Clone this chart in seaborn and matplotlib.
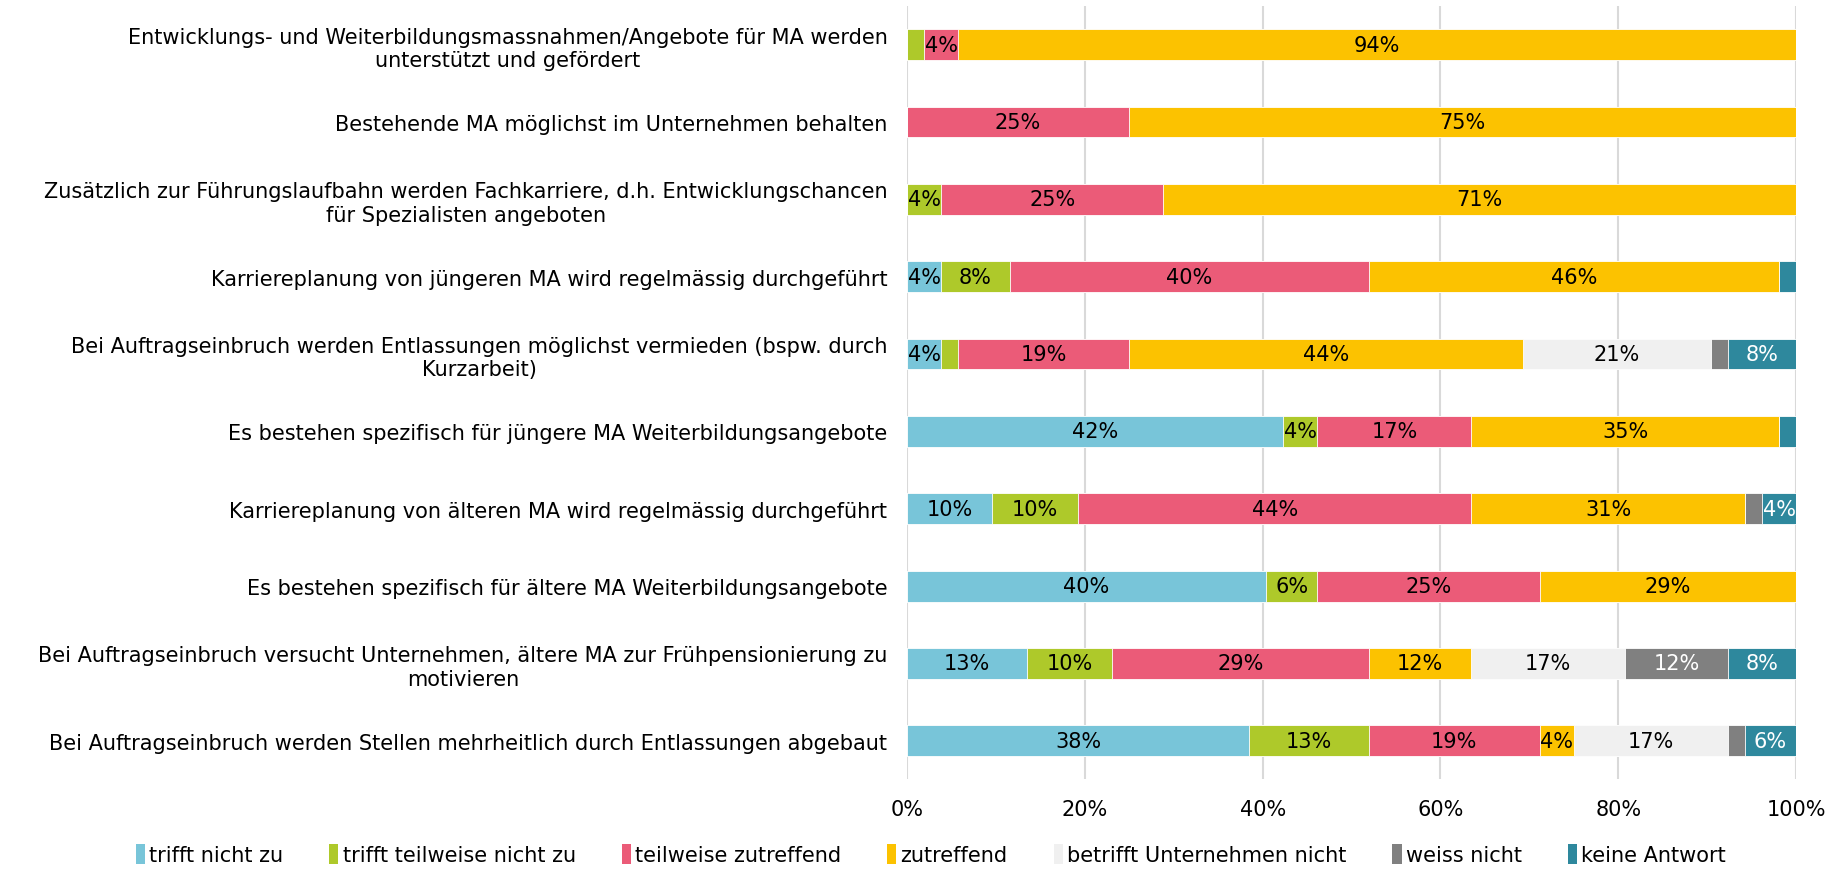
import numpy as np
import pandas as pd
import matplotlib
matplotlib.use("Agg")
import matplotlib.pyplot as plt
import seaborn as sns
from matplotlib.patches import Patch

statements = [
    "Entwicklungs- und Weiterbildungsmassnahmen/Angebote für MA werden\nunterstützt und gefördert",
    "Bestehende MA möglichst im Unternehmen behalten",
    "Zusätzlich zur Führungslaufbahn werden Fachkarriere, d.h. Entwicklungschancen\nfür Spezialisten angeboten",
    "Karriereplanung von jüngeren MA wird regelmässig durchgeführt",
    "Bei Auftragseinbruch werden Entlassungen möglichst vermieden (bspw. durch\nKurzarbeit)",
    "Es bestehen spezifisch für jüngere MA Weiterbildungsangebote",
    "Karriereplanung von älteren MA wird regelmässig durchgeführt",
    "Es bestehen spezifisch für ältere MA Weiterbildungsangebote",
    "Bei Auftragseinbruch versucht Unternehmen, ältere MA zur Frühpensionierung zu\nmotivieren",
    "Bei Auftragseinbruch werden Stellen mehrheitlich durch Entlassungen abgebaut",
]

answers = [
    "trifft nicht zu",
    "trifft teilweise nicht zu",
    "teilweise zutreffend",
    "zutreffend",
    "betrifft Unternehmen nicht",
    "weiss nicht",
    "keine Antwort",
]

# share of answers per statement, in percent
trifft_nicht_zu = [0.0, 0.0, 0.0, 3.85, 3.85, 42.31, 9.62, 40.38, 13.46, 38.46]
trifft_teilweise_nicht_zu = [1.92, 0.0, 3.85, 7.69, 1.92, 3.85, 9.62, 5.77, 9.62, 13.46]
teilweise_zutreffend = [3.85, 25.0, 25.0, 40.38, 19.23, 17.31, 44.23, 25.0, 28.85, 19.23]
zutreffend = [94.23, 75.0, 71.15, 46.15, 44.23, 34.62, 30.77, 28.85, 11.54, 3.85]
betrifft_nicht = [0.0, 0.0, 0.0, 0.0, 21.15, 0.0, 0.0, 0.0, 17.31, 17.31]
weiss_nicht = [0.0, 0.0, 0.0, 0.0, 1.92, 0.0, 1.92, 0.0, 11.54, 1.92]
keine_antwort = [0.0, 0.0, 0.0, 1.92, 7.69, 1.92, 3.85, 0.0, 7.69, 5.77]

series = [trifft_nicht_zu, trifft_teilweise_nicht_zu, teilweise_zutreffend,
          zutreffend, betrifft_nicht, weiss_nicht, keine_antwort]
colors = ["#78C5D9", "#AEC92A", "#EB5B78", "#FCC200", "#F0F0F0", "#808080", "#2E889D"]
label_colors = ["black", "black", "black", "black", "black", "white", "white"]

vals = np.array(series)            # shape (answers, statements)
cum = np.cumsum(vals, axis=0)

sns.set_theme(style="white")
plt.rcParams["font.family"] = ["DejaVu Sans"]
plt.rcParams["text.color"] = "black"
plt.rcParams["xtick.color"] = "black"
plt.rcParams["ytick.color"] = "black"

FS = 15

fig = plt.figure(figsize=(18.43, 8.70), dpi=100)
ax = fig.add_axes([0.4921, 0.103, 0.4825, 0.889])

# stacked bars: draw cumulative totals from the last answer to the first
for i in range(len(answers) - 1, -1, -1):
    df = pd.DataFrame({"statement": statements, "value": cum[i]})
    sns.barplot(data=df, x="value", y="statement", order=statements,
                color=colors[i], width=0.4, orient="h", ax=ax,
                edgecolor="white", linewidth=0.6, saturation=1.0, zorder=2)

# percentage labels in the middle of each segment
for i in range(len(answers)):
    for j in range(len(statements)):
        v = vals[i, j]
        if v >= 3:
            ax.text(cum[i, j] - v / 2, j, f"{v:.0f}%", ha="center", va="center",
                    fontsize=FS, color=label_colors[i], zorder=3)

ax.set_xlim(0, 100)
ax.set_ylim(len(statements) - 0.5, -0.5)
ax.set_xticks(np.arange(0, 101, 20))
ax.set_xticklabels([f"{t}%" for t in range(0, 101, 20)], fontsize=FS)
ax.set_xlabel("")
ax.set_ylabel("")
ax.tick_params(axis="x", pad=14, length=0, colors="black")
ax.tick_params(axis="y", pad=14, length=0, colors="black")
for lbl in ax.get_yticklabels():
    lbl.set_fontsize(FS)
    lbl.set_multialignment("center")
ax.xaxis.grid(True, color="#D9D9D9", linewidth=1.5, zorder=0)
ax.set_axisbelow(True)
for s in ax.spines.values():
    s.set_visible(False)

handles = [Patch(facecolor=c, edgecolor="none") for c in colors]
fig.legend(handles, answers, loc="center", bbox_to_anchor=(0.505, 0.017),
           ncol=len(answers), frameon=False, fontsize=FS,
           handlelength=0.45, handleheight=1.1, handletextpad=0.2,
           columnspacing=2.2)

fig.savefig("out.png", dpi=100)
